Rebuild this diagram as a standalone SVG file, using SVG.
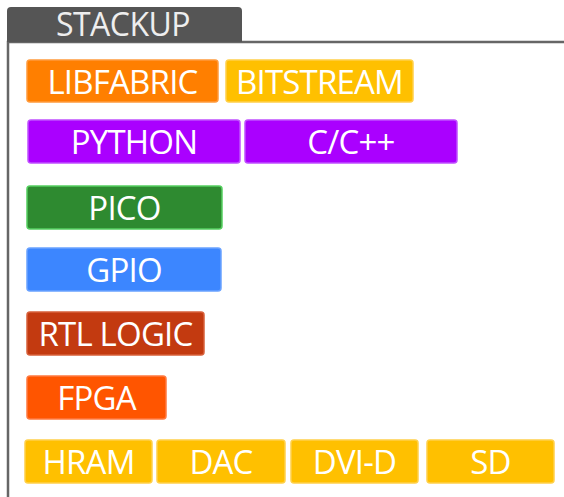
<svg xmlns="http://www.w3.org/2000/svg" width="564" height="497" viewBox="0 0 564 497">
<style>
.b{stroke-width:1.5}
.t{font-family:"Open Sans","Liberation Sans",sans-serif;font-size:33px;letter-spacing:-0.8px;fill:#ffffff;text-anchor:middle}
.orange{fill:#ff7f00;stroke:#ff9a3c}
.yellow{fill:#ffc000;stroke:#ffd04a}
.purple{fill:#aa00ff;stroke:#c050ff}
.green{fill:#2e8a30;stroke:#55d060}
.blue{fill:#3c86ff;stroke:#6aa2ff}
.red{fill:#c33a10;stroke:#d8603a}
.fpga{fill:#ff5500;stroke:#ff7a40}
</style>
<rect width="564" height="497" fill="#ffffff"/>
<g id="frame">
<path d="M8,497 V42 H564" fill="none" stroke="#666666" stroke-width="2.5"/>
</g>
<g id="tab">
<path d="M7,42 V11 Q7,7 11,7 H238 Q242,7 242,11 V42 Z" fill="#555555"/>
<text x="123" y="36" class="t" style="fill:#eeeeee;font-size:32px;letter-spacing:-0.5px">STACKUP</text>
</g>
<g id="libfabric"><rect x="27" y="60" width="191" height="42" rx="3" class="b orange"/><text x="122.5" y="94" class="t">LIBFABRIC</text></g>
<g id="bitstream"><rect x="226" y="60" width="187" height="42" rx="3" class="b yellow"/><text x="319.5" y="94" class="t">BITSTREAM</text></g>
<g id="python"><rect x="28" y="120" width="212" height="43" rx="3" class="b purple"/><text x="134" y="154" class="t">PYTHON</text></g>
<g id="cpp"><rect x="245" y="120" width="212" height="43" rx="3" class="b purple"/><text x="351" y="154" class="t">C/C++</text></g>
<g id="pico"><rect x="27" y="186" width="195" height="43" rx="3" class="b green"/><text x="124.5" y="220" class="t">PICO</text></g>
<g id="gpio"><rect x="27" y="248" width="194" height="43" rx="3" class="b blue"/><text x="124" y="282" class="t">GPIO</text></g>
<g id="rtl"><rect x="27" y="312" width="177" height="43" rx="3" class="b red"/><text x="115.5" y="346" class="t">RTL LOGIC</text></g>
<g id="fpga"><rect x="27" y="376" width="139" height="43" rx="3" class="b fpga"/><text x="96.5" y="410" class="t">FPGA</text></g>
<g id="hram"><rect x="25" y="440" width="127" height="43" rx="3" class="b yellow"/><text x="88.5" y="474" class="t">HRAM</text></g>
<g id="dac"><rect x="157" y="440" width="128" height="43" rx="3" class="b yellow"/><text x="221" y="474" class="t">DAC</text></g>
<g id="dvid"><rect x="291" y="440" width="127" height="43" rx="3" class="b yellow"/><text x="354.5" y="474" class="t">DVI-D</text></g>
<g id="sd"><rect x="427" y="440" width="127" height="43" rx="3" class="b yellow"/><text x="490.5" y="474" class="t">SD</text></g>
<g id="connectors"/>
</svg>
